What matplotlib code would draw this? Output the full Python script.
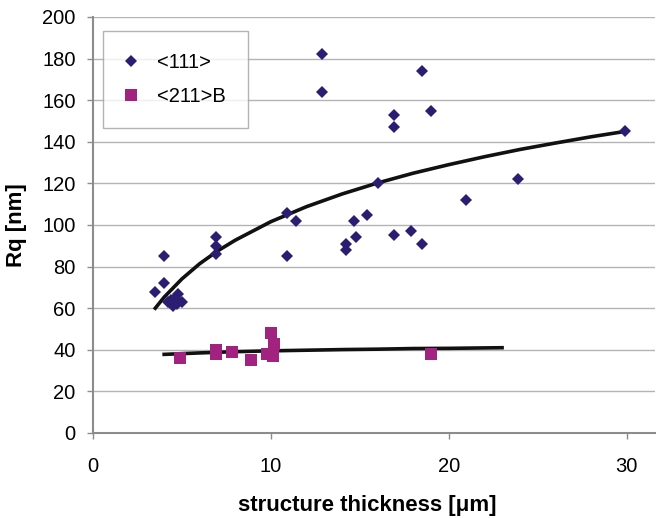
import numpy as np
import matplotlib
matplotlib.use("Agg")
import matplotlib.pyplot as plt
from matplotlib.lines import Line2D

plt.rcParams['font.family'] = ['Liberation Sans', 'DejaVu Sans']

# <111> orientation: thickness [um], Rq [nm]
x111 = [3.5, 4.0, 4.0, 4.2, 4.4, 4.5, 4.6, 4.8, 5.0, 4.7,
        6.9, 6.9, 6.9, 10.9, 10.9, 11.4, 12.9, 12.9,
        14.2, 14.2, 14.7, 14.8, 15.4, 16.0, 16.9, 16.9, 16.9,
        17.9, 18.5, 18.5, 19.0, 21.0, 23.9, 29.9]
y111 = [68, 85, 72, 63, 64, 61, 65, 67, 63, 62,
        94, 90, 86, 106, 85, 102, 182, 164,
        91, 88, 102, 94, 105, 120, 153, 147, 95,
        97, 174, 91, 155, 112, 122, 145]

# <211>B orientation
x211 = [4.9, 6.9, 6.9, 7.8, 8.9, 9.8, 10.0, 10.1, 10.2, 19.0]
y211 = [36, 40, 38, 39, 35, 38, 48, 37, 43, 38]

# trend lines
trend111_x = [3.5, 4, 5, 6, 7, 8, 10, 12, 14, 16, 18, 20, 22, 24, 26, 28, 30]
trend111_y = [60.0, 65.3, 74.1, 81.4, 87.5, 92.7, 101.6, 108.8, 114.9,
              120.2, 124.9, 129.0, 132.8, 136.3, 139.4, 142.4, 145.1]
trend211_x = [4, 6, 8, 10, 12, 14, 16, 18, 20, 23]
trend211_y = [37.8, 38.5, 39.1, 39.5, 39.8, 40.1, 40.3, 40.6, 40.7, 41.0]

navy = '#2B1D72'
magenta = '#A2237F'
axis_gray = '#8C8C8C'

fig = plt.figure(figsize=(6.56, 5.18), dpi=100)
ax = fig.add_axes([0.1418, 0.1641, 0.8567, 0.8031])

ax.set_xlim(0, 31.6)
ax.set_ylim(0, 200)
ax.set_xticks([0, 10, 20, 30])
ax.set_yticks(range(0, 201, 20))

ax.yaxis.grid(True, color='#B4B4B4', linewidth=1.0)
ax.set_axisbelow(True)
for s in ['top', 'right']:
    ax.spines[s].set_visible(False)
for s in ['left', 'bottom']:
    ax.spines[s].set_color(axis_gray)
    ax.spines[s].set_linewidth(1.5)
ax.tick_params(axis='y', direction='out', length=4.5, width=1, color=axis_gray,
               labelsize=14.5, pad=8)
ax.tick_params(axis='x', direction='out', length=4.5, width=1, color=axis_gray,
               labelsize=14.5, pad=13)

ax.plot(trend111_x, trend111_y, color='#111111', linewidth=2.6, zorder=3)
ax.plot(trend211_x, trend211_y, color='#111111', linewidth=2.6, zorder=3)
ax.plot(x111, y111, linestyle='none', marker='D', markersize=6.3,
        color=navy, markeredgewidth=0, zorder=4)
ax.plot(x211, y211, linestyle='none', marker='s', markersize=8,
        color=magenta, markeredgewidth=0, zorder=4)

handles = [Line2D([], [], linestyle='none', marker='D', markersize=6,
                  color=navy, markeredgewidth=0),
           Line2D([], [], linestyle='none', marker='s', markersize=8,
                  color=magenta, markeredgewidth=0)]
leg = ax.legend(handles, ['<111>', '<211>B'], loc='upper left',
                bbox_to_anchor=(0.0173, 0.967), borderaxespad=0,
                fontsize=14.5, frameon=True, fancybox=False,
                borderpad=1.1, labelspacing=0.76, handletextpad=1.0,
                handlelength=0.6)
leg.get_frame().set_edgecolor('#A0A0A0')
leg.get_frame().set_linewidth(1.0)

ax.set_xlabel('structure thickness [\u03bcm]', fontsize=16, fontweight='bold')
ax.set_ylabel('Rq [nm]', fontsize=16, fontweight='bold')
ax.xaxis.set_label_coords(0.488, -0.15)
ax.yaxis.set_label_coords(-0.117, 0.5)

fig.savefig('out.png', dpi=100)
